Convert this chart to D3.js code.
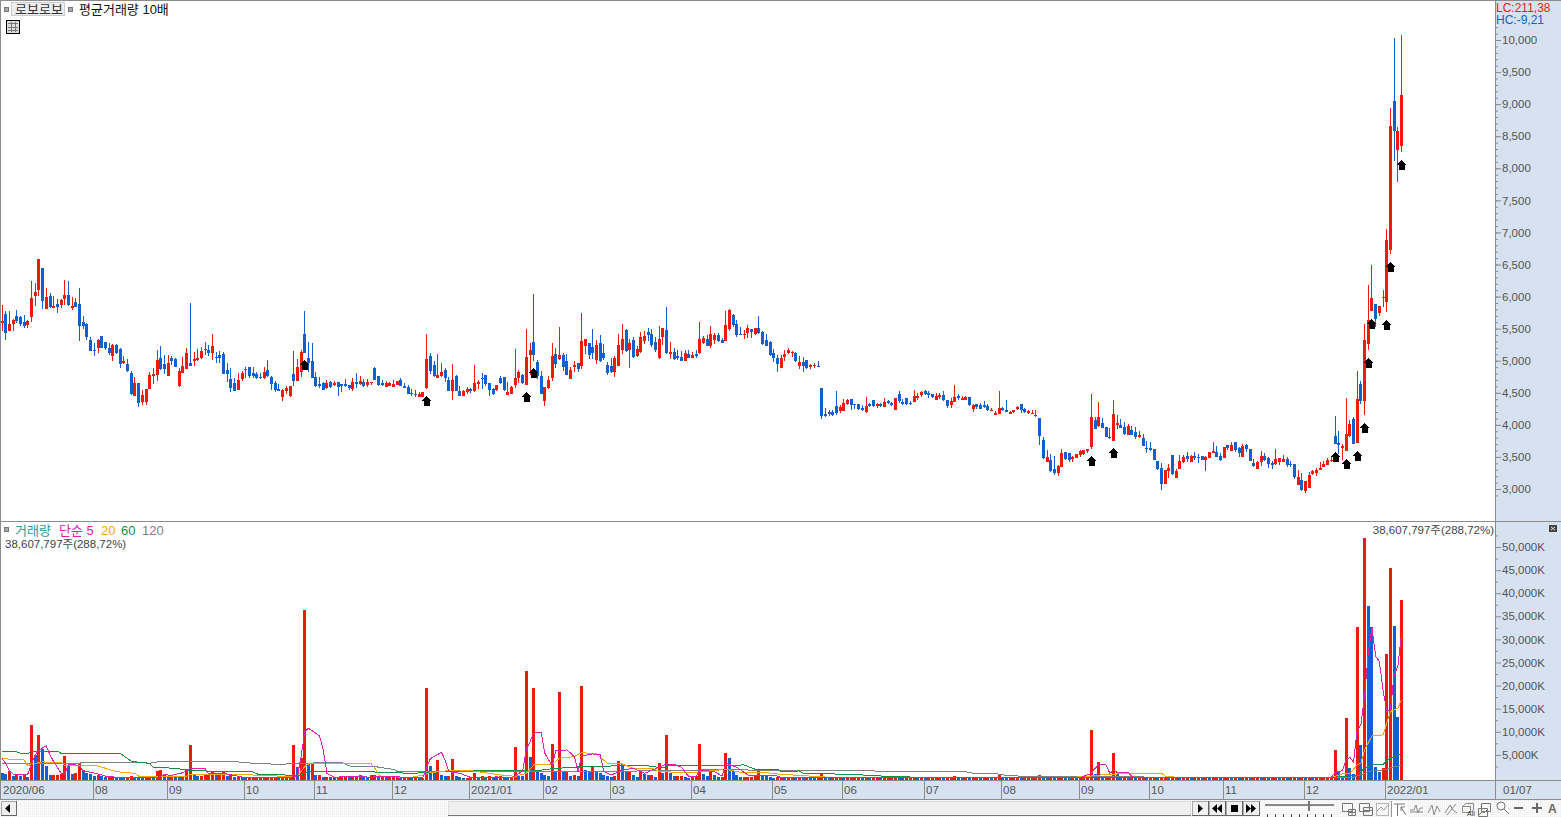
<!DOCTYPE html>
<html lang="ko">
<head>
    <meta charset="UTF-8">
    <script src="https://d3js.org/d3.v7.min.js"></script>
    <style>
        html, body { margin: 0; padding: 0; background: #fff; overflow: hidden; }
        svg { display: block; }
        text { font-family: "Liberation Sans", Arial, "Noto Sans CJK KR", sans-serif; font-size: 11.5px; fill: #555; }
        .kr { font-size: 13px; }
        .axis line { stroke: #8c8c8c; }
        .axis path { display: none; }
    </style>
</head>
<body>
<div id="chart"></div>
<script>
// 일봉 시가/고가/저가/종가 (화면에서 읽은 값)
const opens = [
5590,5730,5470,5570,5695,5680,5605,5555,5680,6010,
6100,6445,5805,6010,5820,5885,5870,5960,6025,5820,
5915,5885,5605,5570,5325,5165,5200,5385,5290,5200,
5075,5245,5185,4965,4950,4810,4450,4655,4355,4355,
4560,4760,4775,5040,4950,4760,5040,5025,4605,4810,
4870,4965,4995,5010,5040,5165,5165,5120,5060,5090,
5105,4855,4715,4655,4545,4715,4855,4900,4810,4790,
4745,4730,4855,4745,4655,4560,4435,4530,4450,4790,
4685,4825,5415,5040,4995,4745,4635,4655,4575,4670,
4620,4670,4635,4635,4620,4560,4670,4635,4670,4620,
4655,4885,4760,4655,4590,4605,4590,4620,4700,4605,
4590,4495,4480,4435,4435,4575,5075,4935,4730,4760,
4855,4700,4525,4760,4525,4450,4510,4560,4525,4635,
4730,4775,4650,4560,4545,4730,4745,4465,4480,4620,
4730,4775,4620,5090,5290,4980,4760,4370,4575,4730,
5105,5025,5090,4995,4715,4900,4965,4915,5230,5275,
5215,5010,5275,5120,4935,4915,4825,4915,5165,5480,
5165,5320,5075,5135,5305,5445,5415,5290,5040,5370,
5480,5105,5135,5075,5060,4995,5105,5040,5105,5120,
5275,5340,5230,5320,5400,5320,5305,5495,5710,5570,
5415,5400,5430,5495,5415,5510,5445,5320,5290,5120,
5040,4885,5060,5120,5120,5120,4915,4980,5010,4900,
4915,4915,4575,4170,4200,4200,4295,4215,4215,4325,
4405,4325,4325,4265,4200,4325,4385,4295,4325,4280,
4370,4340,4230,4480,4355,4420,4340,4355,4420,4465,
4530,4495,4480,4385,4435,4465,4385,4310,4355,4450,
4385,4385,4435,4245,4325,4310,4310,4295,4215,4155,
4170,4265,4230,4170,4200,4245,4325,4245,4185,4170,
4155,4105,3765,3420,3450,3310,3250,3345,3575,3560,
3465,3485,3530,3545,3590,3655,4075,3980,4030,3965,
3810,3750,3995,3995,3965,3840,3920,3890,3810,3795,
3640,3640,3625,3435,3325,3080,3280,3530,3170,3310,
3420,3515,3420,3515,3500,3515,3450,3485,3560,3575,
3515,3485,3685,3590,3735,3640,3500,3685,3625,3405,
3310,3420,3515,3485,3405,3390,3420,3420,3470,3390,
3390,3060,3140,2970,3015,3235,3250,3295,3345,3375,
3435,3825,3715,3640,3590,3825,4090,3715,4635,4370,
5260,5775,5885,5745,5980,5915,6725,9050,8285,8350];

const highs = [
5870,5775,5775,5650,5790,5695,5715,5635,6245,6210,
6585,6445,6135,6055,6010,5960,5960,6260,6245,5995,
5980,6135,5695,5590,5370,5275,5340,5385,5290,5275,
5260,5260,5200,5075,5025,4840,4745,4655,4545,4560,
4825,4885,5165,5230,5090,5090,5075,5040,4885,5060,
5200,5900,5135,5185,5215,5290,5245,5415,5135,5150,
5135,4965,4885,4730,4810,4840,4900,4900,4900,4825,
4810,4900,5010,4760,4685,4635,4560,4605,4605,5150,
5025,5165,5775,5290,5275,4825,4745,4670,4700,4685,
4685,4670,4635,4715,4620,4730,4810,4760,4715,4715,
4670,4900,4760,4700,4685,4670,4700,4685,4730,4655,
4620,4560,4545,4510,4510,5415,5120,4995,5105,4965,
4885,4745,4950,4775,4605,4545,4590,4575,4935,4700,
4810,4775,4650,4575,4620,4760,4745,4670,4605,5180,
4855,4790,5495,5275,6040,5010,4840,4590,4760,5275,
5200,5525,5120,5105,4900,4995,4965,5745,5340,5275,
5495,5320,5400,5260,4980,5040,5075,5415,5570,5495,
5340,5370,5230,5445,5465,5510,5495,5370,5540,5510,
5835,5290,5200,5165,5150,5165,5165,5135,5165,5605,
5385,5400,5540,5430,5430,5355,5775,5805,5730,5635,
5525,5480,5555,5495,5510,5695,5465,5415,5305,5180,
5090,5090,5165,5200,5150,5135,5075,5060,5010,4950,
4965,4995,4575,4265,4230,4230,4530,4310,4405,4405,
4405,4325,4325,4310,4435,4340,4385,4340,4340,4420,
4385,4355,4420,4530,4405,4420,4370,4545,4495,4530,
4545,4530,4480,4495,4495,4530,4385,4420,4620,4480,
4450,4450,4435,4325,4325,4340,4370,4325,4265,4215,
4530,4280,4385,4215,4230,4295,4325,4265,4230,4230,
4230,4105,3810,3610,3545,3515,3375,3625,3575,3560,
3515,3545,3610,3610,3625,4480,4120,4355,4105,3965,
3950,4385,4155,4090,4045,4015,3980,3965,3905,3855,
3750,3730,3625,3435,3405,3295,3390,3530,3310,3530,
3530,3575,3530,3575,3545,3515,3515,3575,3735,3670,
3560,3655,3685,3735,3735,3655,3700,3700,3625,3470,
3435,3590,3560,3500,3435,3625,3485,3530,3500,3435,
3390,3295,3250,3125,3265,3295,3325,3420,3435,3485,
3500,4140,3905,3700,4420,4075,4120,4840,4685,5570,
6180,6490,5885,5855,6100,7055,8940,10030,8645,10080];

const lows = [
5470,5325,5470,5470,5590,5540,5510,5510,5605,5855,
6010,5805,5805,5820,5820,5745,5820,5870,5855,5790,
5835,5305,5495,5325,5150,5075,5120,5200,5165,5090,
4995,5105,4885,4950,4825,4465,4450,4280,4310,4310,
4560,4635,4685,4855,4790,4760,4935,4900,4590,4810,
4870,4920,4920,4995,5025,5090,5075,5010,4965,4965,
4790,4670,4510,4530,4545,4685,4730,4730,4730,4715,
4715,4715,4745,4545,4510,4530,4370,4480,4435,4605,
4685,4745,5120,4825,4730,4590,4575,4545,4560,4575,
4605,4450,4510,4590,4545,4530,4575,4620,4590,4590,
4620,4700,4605,4605,4590,4605,4590,4620,4605,4575,
4480,4450,4435,4435,4435,4560,4790,4745,4730,4745,
4670,4525,4385,4525,4450,4450,4480,4495,4510,4560,
4560,4605,4450,4465,4525,4635,4525,4465,4480,4575,
4650,4635,4620,4775,4995,4715,4480,4295,4560,4685,
4885,5010,4840,4775,4715,4825,4825,4870,5105,5025,
5025,4950,4980,5010,4775,4810,4745,4915,5105,5135,
4885,5040,5060,5120,5260,5305,5215,5135,5025,5245,
5105,5025,5010,5010,4995,4995,5040,5040,5040,5105,
5260,5230,5200,5260,5290,5275,5305,5465,5525,5370,
5400,5340,5355,5355,5400,5415,5245,5230,5075,4980,
4825,4885,4995,5105,5060,4980,4870,4825,4870,4870,
4885,4900,4090,4120,4140,4140,4155,4185,4215,4310,
4230,4245,4230,4215,4185,4280,4280,4265,4280,4280,
4325,4295,4230,4340,4310,4310,4310,4355,4385,4435,
4465,4420,4420,4385,4405,4370,4265,4265,4355,4385,
4385,4385,4295,4200,4245,4245,4265,4215,4215,4155,
4170,4215,4200,4170,4185,4230,4185,4185,4170,4170,
4120,3685,3465,3420,3265,3220,3200,3345,3450,3420,
3420,3485,3500,3530,3560,3625,3935,3965,3950,3810,
3780,3750,3935,3950,3840,3840,3840,3780,3795,3670,
3560,3590,3450,3295,2985,3080,3170,3220,3170,3310,
3405,3420,3420,3450,3405,3450,3280,3485,3560,3495,
3435,3485,3610,3590,3575,3500,3500,3575,3435,3345,
3310,3360,3435,3325,3310,3375,3375,3420,3345,3345,
3155,3060,2970,2940,3015,3220,3205,3295,3345,3375,
3420,3700,3545,3450,3590,3810,3700,3715,4325,4155,
5165,5775,5525,5695,5835,5760,6665,8115,7785,8255];

const closes = [
5620,5430,5570,5635,5620,5570,5540,5620,5980,6070,
6585,5930,5995,5835,5855,5835,5945,6025,5870,5855,
5835,5540,5540,5370,5150,5150,5325,5200,5200,5120,
5245,5120,4950,4995,4840,4480,4655,4340,4465,4560,
4775,4790,5010,4870,4870,4965,4995,4900,4840,4920,
5120,4920,5025,5040,5150,5185,5120,5230,5040,5040,
4790,4790,4575,4530,4700,4810,4870,4760,4760,4730,
4730,4825,4760,4635,4545,4530,4545,4575,4605,4685,
4900,5135,5120,4965,4730,4605,4605,4545,4655,4590,
4655,4590,4605,4605,4575,4670,4635,4685,4605,4670,
4670,4700,4620,4620,4655,4655,4635,4685,4605,4575,
4480,4480,4465,4480,4510,5025,4840,4760,4775,4825,
4730,4525,4700,4525,4450,4525,4560,4525,4650,4670,
4715,4635,4545,4480,4620,4650,4545,4510,4590,4730,
4825,4650,5060,5165,5090,4760,4480,4590,4700,5075,
4950,5090,4900,4775,4855,4935,4870,5305,5340,5090,
5120,5245,4995,5040,4810,4825,5040,5245,5340,5150,
5275,5060,5180,5370,5385,5400,5245,5165,5340,5510,
5120,5135,5025,5040,4995,5120,5040,5090,5075,5340,
5355,5230,5415,5400,5305,5275,5555,5790,5555,5400,
5400,5415,5510,5445,5510,5430,5260,5230,5090,5040,
4950,5040,5105,5165,5135,4995,4980,4915,4885,4935,
4935,4900,4140,4140,4170,4155,4185,4280,4340,4385,
4310,4310,4245,4230,4295,4295,4295,4325,4295,4355,
4340,4310,4420,4370,4325,4325,4325,4450,4450,4510,
4480,4465,4435,4450,4465,4385,4295,4370,4435,4420,
4420,4435,4310,4310,4280,4245,4280,4230,4230,4185,
4265,4230,4200,4200,4230,4280,4230,4200,4215,4185,
4140,3825,3485,3500,3280,3250,3360,3560,3465,3450,
3500,3545,3590,3610,3625,4120,3935,4120,3950,3810,
3795,4170,4030,3950,3855,3980,3840,3810,3840,3670,
3625,3610,3450,3310,3080,3295,3325,3235,3280,3435,
3500,3465,3515,3485,3485,3450,3500,3575,3590,3500,
3450,3655,3640,3685,3610,3560,3670,3625,3435,3360,
3420,3515,3450,3390,3375,3470,3485,3470,3375,3375,
3185,3185,2985,3125,3220,3280,3295,3325,3390,3450,
3450,3700,3685,3670,3855,4015,3700,4405,4370,5325,
5635,5980,5650,5855,5995,6880,8660,8580,8580,9150];

// 거래량 (천주)
const volumes = [
1085,870,1520,430,870,430,870,220,11500,5000,
9330,6290,2600,600,650,700,870,4770,2820,870,
1085,3250,1735,1085,870,430,650,430,150,220,
300,180,150,120,220,430,220,200,150,150,
430,220,1520,1735,650,430,650,430,220,220,
1950,7160,650,430,430,650,870,1520,870,870,
1300,430,650,300,430,220,100,100,100,220,
220,220,220,220,220,100,100,220,430,7160,
2390,4340,36450,3250,3250,650,650,220,300,180,
150,150,150,220,150,220,430,650,430,220,
650,650,220,220,150,150,150,220,150,150,
150,120,150,100,100,19450,2600,1520,3900,650,
430,430,4120,360,220,100,100,150,1085,150,
430,220,430,220,200,430,200,100,220,6720,
650,360,23200,4550,19500,1520,1085,650,430,7370,
1520,18650,1520,1520,430,650,430,19950,1735,1520,
2390,1520,1085,650,430,220,430,3690,3040,1300,
1300,650,220,1735,870,650,650,220,3250,1085,
9330,1085,430,430,430,220,100,220,430,7370,
870,430,1950,650,220,220,5420,4340,1520,650,
220,220,220,220,430,1520,650,430,220,100,
220,220,150,150,150,120,180,150,150,120,
100,120,870,200,100,100,120,120,100,100,
100,100,100,80,100,80,100,100,80,100,
100,100,290,100,80,100,100,100,80,100,
80,80,100,100,100,80,100,100,430,100,
80,100,80,80,100,80,80,100,80,100,
650,100,80,80,100,100,80,80,100,100,
100,650,200,100,100,80,100,300,150,100,
100,80,100,100,150,10400,870,3470,300,300,
300,5420,870,290,290,150,150,100,100,100,
80,80,100,80,100,100,80,80,100,80,
80,100,80,80,100,80,100,80,80,100,
80,80,100,80,100,80,80,100,80,100,
100,80,100,80,80,100,80,100,80,80,
100,80,100,80,100,80,100,100,100,100,
150,6070,1230,430,13000,2170,870,32750,7160,52050,
37300,32750,2390,1300,2170,26900,45550,32970,13230,38608];

// 이동평균 (읽은 지점의 봉 번호, 값)
const ma5Days = [1,2,3,4,7,8,9,10,11,13,14,15,17,18,19,21,22,23,27,29,32,43,45,47,50,52,56,57,62,67,72,79,81,82,83,84,86,87,88,89,91,96,101,103,112,115,116,117,118,120,121,122,125,128,135,139,140,142,143,145,147,148,149,150,151,154,156,157,158,161,163,164,166,169,172,175,181,183,185,187,189,190,194,196,197,200,203,206,210,212,225,240,270,293,296,297,298,299,300,301,302,303,306,307,308,319,322,326,345,361,362,364,365,366,367,368,369,370,371,372,373,374,375,376,377,378,379,380];
const ma5Vals = [4270,3180,1520,870,650,870,3180,4990,6070,6940,4990,3540,1010,1010,2820,2820,2460,1590,870,430,150,150,720,580,1160,2100,2020,870,870,50,150,150,430,4630,10050,10770,9690,9110,6070,1010,150,430,150,430,100,100,2310,4190,4630,5570,3900,1370,1010,100,220,100,430,1590,6070,9690,9900,5350,3900,2820,5930,6070,4630,1370,4770,5210,4990,1370,650,1735,2100,1010,3040,2960,2310,290,290,1735,1370,430,3180,2310,650,430,650,100,100,120,150,60,1010,2100,2820,2960,2820,1010,1590,1230,1230,290,60,100,40,100,60,100,1160,1590,3900,4480,3400,10400,11500,17640,27040,32460,26320,25230,19090,14390,14750,22340,24150,31020];
const ma20Days = [1,5,7,8,9,12,17,18,27,29,32,37,38,51,52,59,66,72,79,81,83,84,101,102,103,104,112,115,117,122,128,136,140,143,145,150,152,156,158,162,165,169,172,177,179,188,197,201,207,212,218,225,290,296,299,307,315,316,318,319,331,352,361,364,366,368,369,370,372,375,376,377,379,380];
const ma20Vals = [4270,3900,3900,2600,3040,3470,3400,2600,2600,2100,1370,1010,430,360,800,720,720,580,290,430,2460,3040,3040,2100,650,290,150,650,1160,1590,1590,650,360,1010,2820,3040,4270,4630,5490,5210,3180,3040,2100,2100,1370,1160,1880,1230,1230,800,510,150,100,430,720,1010,1010,430,290,100,50,50,150,870,1010,2820,3180,6070,9110,9330,11860,14390,15110,16920];
const ma60Days = [1,5,6,8,9,16,17,33,36,38,41,42,48,51,56,69,70,75,80,82,84,102,112,121,129,141,146,150,158,175,180,181,193,202,205,211,212,217,218,225,228,237,241,252,258,293,361,368,370,372,375,376,377,380];
const ma60Vals = [5780,5640,5350,5350,5640,5780,5350,5350,3620,3400,3180,2310,2100,1735,1520,1300,870,720,580,650,1450,1300,1010,1370,1660,1590,1590,2020,2460,2750,2170,2600,2750,2820,1880,1880,1450,1520,1010,940,800,580,290,150,50,100,100,650,2100,2960,2960,3760,4270,5350];
const ma120Days = [1,38,41,44,63,69,76,82,93,95,102,107,108,112,128,175,201,202,225,237,238,262,264,270,271,273,279,310,311,362,367,372,375,380];
const ma120Vals = [3040,3400,3180,3620,3620,3180,2960,3180,3400,2600,2460,1880,1450,1370,1370,1520,1880,1735,1590,1590,1370,1370,1010,1010,800,580,290,290,60,100,150,1590,1735,2820];

// 매수 신호 화살표
const arrowDays = [83,116,143,145,296,302,362,365,368,370,371,372,376,377,380];
const arrowPrices = [4996,4434,4497,4871,3499,3624,3561,3452,3577,4013,5027,5635,5619,6523,8113];

const monthDays = [1,26,46,67,86,107,128,148,166,188,210,229,251,272,293,312,332,354,376];
const monthLabels = ["2020/06","08","09","10","11","12","2021/01","02","03","04","05","06","07","08","09","10","11","12","2022/01"];

const priceTicks = d3.range(3000, 10001, 500);
const priceMinor = d3.range(2900, 10201, 100);
const volTicks = d3.range(5000, 50001, 5000);
const volMinor = d3.range(2500, 52501, 5000);

const width = 1561, height = 817;
const axisX = 1495;
const RED = "#ee1a0a", BLUE = "#1060d0", PANEL = "#d6e2f0", GRID = "#8c8c8c";

const days = d3.range(1, opens.length + 1);
const x = d3.scalePoint().domain(days).range([2, 1401.5]);
const px = d => Math.floor(x(d));
const y = d3.scaleLinear().domain([3000, 10000]).range([489, 40]);
const yVol = d3.scaleLinear().domain([0, 50000]).range([778, 547]);

const svg = d3.select("#chart").append("svg")
    .attr("width", width).attr("height", height)
    .attr("viewBox", `0 0 ${width} ${height}`);

// 오른쪽 축 영역, 날짜 영역, 구분선
svg.append("rect").attr("x", axisX).attr("y", 0).attr("width", width - axisX).attr("height", 800).attr("fill", PANEL);
svg.append("rect").attr("x", 0).attr("y", 780).attr("width", width).attr("height", 20).attr("fill", PANEL);

const hline = (y0, x1, x2) => svg.append("rect").attr("x", x1).attr("y", y0).attr("width", x2 - x1).attr("height", 1).attr("fill", GRID);
const vline = (x0, y1, y2) => svg.append("rect").attr("x", x0).attr("y", y1).attr("width", 1).attr("height", y2 - y1).attr("fill", GRID);
hline(0, 0, width);
hline(521, 0, width);
hline(780, 0, width);
hline(799, 0, width);
vline(0, 0, 800);
vline(axisX, 0, 800);

// 가격 캔들
const candles = svg.append("g").attr("shape-rendering", "crispEdges");
const up = i => closes[i] >= opens[i];
candles.selectAll(".wick").data(days).enter().append("rect")
    .attr("class", "wick")
    .attr("x", d => px(d))
    .attr("y", d => y(highs[d - 1]))
    .attr("width", 1)
    .attr("height", d => Math.max(1, y(lows[d - 1]) - y(highs[d - 1])))
    .attr("fill", d => up(d - 1) ? RED : BLUE);
candles.selectAll(".body").data(days).enter().append("rect")
    .attr("class", "body")
    .attr("x", d => px(d) - 1)
    .attr("y", d => y(Math.max(opens[d - 1], closes[d - 1])))
    .attr("width", 3)
    .attr("height", d => Math.max(1, Math.abs(y(opens[d - 1]) - y(closes[d - 1]))))
    .attr("fill", d => up(d - 1) ? RED : BLUE);

svg.append("g").attr("shape-rendering", "crispEdges")
    .selectAll("path").data(arrowDays).enter().append("path")
    .attr("d", "M0,-1 L5.5,4 L3,4 L3,9 L-3,9 L-3,4 L-5.5,4 Z")
    .attr("transform", (d, i) => `translate(${px(d) + 0.5},${y(arrowPrices[i])})`)
    .attr("fill", "#000");

// 거래량 막대: 전일보다 늘면 빨강, 줄면 파랑
svg.append("g").attr("shape-rendering", "crispEdges")
    .selectAll("rect").data(days).enter().append("rect")
    .attr("x", d => px(d) - 1)
    .attr("y", d => Math.min(yVol(volumes[d - 1]), 779))
    .attr("width", 3)
    .attr("height", d => 780 - Math.min(yVol(volumes[d - 1]), 779))
    .attr("fill", d => (d === 1 || volumes[d - 1] < volumes[d - 2]) ? BLUE : RED);

// 이동평균선
const maLine = d3.line().x(d => x(d[0])).y(d => Math.min(yVol(d[1]), 779));
[[ma120Days, ma120Vals, "#808080"], [ma60Days, ma60Vals, "#109040"], [ma20Days, ma20Vals, "#f0a800"], [ma5Days, ma5Vals, "#e020b0"]]
    .forEach(([ds, vs, color]) => {
        svg.append("path")
            .attr("d", maLine(ds.map((d, i) => [d, vs[i]])))
            .attr("fill", "none").attr("stroke", color).attr("stroke-width", 1)
            .attr("shape-rendering", "crispEdges");
    });

// 축
const priceAxis = svg.append("g").attr("class", "axis").attr("transform", `translate(${axisX},0)`)
    .call(d3.axisRight(y).tickValues(priceTicks).tickSize(6).tickPadding(1).tickFormat(d3.format(",")));
svg.append("g").attr("class", "axis").attr("transform", `translate(${axisX},0)`)
    .call(d3.axisRight(y).tickValues(priceMinor).tickSize(3).tickFormat(""));
const volAxis = svg.append("g").attr("class", "axis").attr("transform", `translate(${axisX},0)`)
    .call(d3.axisRight(yVol).tickValues(volTicks).tickSize(6).tickPadding(1).tickFormat(d => d3.format(",")(d) + "K"));
svg.append("g").attr("class", "axis").attr("transform", `translate(${axisX},0)`)
    .call(d3.axisRight(yVol).tickValues(volMinor).tickSize(3).tickFormat(""));
[priceAxis, volAxis].forEach(a => a.selectAll("text").style("font-size", "11.5px").style("font-family", "'Liberation Sans', Arial, sans-serif").style("fill", "#555"));

// 날짜 축
const months = svg.append("g").selectAll("g").data(monthDays).enter().append("g")
    .attr("transform", d => `translate(${Math.round(x(d) - 1.5)},780)`);
months.filter((d, i) => i > 0).append("rect").attr("width", 1).attr("height", 19).attr("fill", GRID);
months.append("text").attr("x", 2).attr("y", 14).text((d, i) => monthLabels[i]);
svg.append("text").attr("x", 1503).attr("y", 794).text("01/07");

// 텍스트와 버튼
const label = (tx, ty, str, fill, cls) => svg.append("text").attr("x", tx).attr("y", ty)
    .attr("class", cls || null).style("fill", fill).text(str);
const tag = (tx, ty) => svg.append("rect").attr("x", tx + 0.5).attr("y", ty + 0.5).attr("width", 4).attr("height", 4)
    .attr("fill", "#aaa").attr("stroke", "#777");

tag(4, 7);
svg.append("rect").attr("x", 11.5).attr("y", 2.5).attr("width", 53).attr("height", 13).attr("fill", "#eee").attr("stroke", "#ccc");
label(15, 14, "로보로보", "#333", "kr");
tag(68, 7);
label(79, 14, "평균거래량 10배", "#111", "kr");
svg.append("rect").attr("x", 6.5).attr("y", 20.5).attr("width", 13).attr("height", 13).attr("fill", "#ddd").attr("stroke", "#000");
svg.append("path").attr("d", "M8,23.5H18M8,27.5H18M8,30.5H18M11.5,22V32M15.5,22V32").attr("stroke", "#777").attr("fill", "none");

label(1496, 12, "LC:211,38", RED).style("font-size", "12px");
label(1496, 24, "HC:-9,21", BLUE).style("font-size", "12px");

tag(4, 527);
label(15, 535, "거래량", "#2a9a9a", "kr");
label(59, 535, "단순 5", "#e020b0", "kr");
label(101, 535, "20", "#f0a800", "kr");
label(121, 535, "60", "#109040", "kr");
label(142, 535, "120", "#808080", "kr");
label(5, 548, "38,607,797주(288,72%)", "#444");
label(1494, 534, "38,607,797주(288,72%)", "#444").attr("text-anchor", "end");
svg.append("rect").attr("x", 1549).attr("y", 525).attr("width", 8).attr("height", 7).attr("fill", "#444");
svg.append("path").attr("d", "M1551,527L1555,530M1555,527L1551,530").attr("stroke", "#ddd");

// 하단 툴바
const defs = svg.append("defs");
const dots = defs.append("pattern").attr("id", "dots").attr("width", 2).attr("height", 2).attr("patternUnits", "userSpaceOnUse");
dots.append("rect").attr("width", 2).attr("height", 2).attr("fill", "#fbfbfb");
dots.append("rect").attr("width", 1).attr("height", 1).attr("fill", "#ececec");
svg.append("rect").attr("x", 0).attr("y", 800).attr("width", width).attr("height", 17).attr("fill", "url(#dots)");
svg.append("rect").attr("x", 448.5).attr("y", 801.5).attr("width", 742).attr("height", 14).attr("fill", "#efefef").attr("stroke", "#ddd");
hline(815, 448, 1191).attr("fill", "#777");

const button = (bx, w) => {
    svg.append("rect").attr("x", bx + 0.5).attr("y", 801.5).attr("width", w).attr("height", 14).attr("fill", "#f0f0f0").attr("stroke", "#aaa");
    hline(815, bx, bx + w + 1).attr("fill", "#666");
    vline(bx + w, 801, 816).attr("fill", "#666");
};
const glyph = (d) => svg.append("path").attr("d", d).attr("fill", "#000");
button(1, 15);
glyph("M5,808.5L10,804V813Z");
button(1192, 16);
glyph("M1198,804L1203,808.5L1198,813Z");
button(1209, 16);
glyph("M1217,804V813L1212,808.5ZM1222,804V813L1217,808.5Z");
button(1226, 16);
glyph("M1231,805H1238V812H1231Z");
button(1243, 16);
glyph("M1246,804L1251,808.5L1246,813ZM1251,804L1256,808.5L1251,813Z");

svg.append("rect").attr("x", 1265).attr("y", 804).attr("width", 69).attr("height", 2).attr("fill", "#888");
svg.append("rect").attr("x", 1308).attr("y", 801).attr("width", 2).attr("height", 10).attr("fill", "#777");
d3.range(1267, 1335, 8).forEach(t => svg.append("rect").attr("x", t).attr("y", 814).attr("width", 1).attr("height", 3).attr("fill", "#444"));

const icon = (d, color) => svg.append("path").attr("d", d).attr("fill", "none").attr("stroke", color || "#777");
svg.append("rect").attr("x", 1391).attr("y", 801).attr("width", 17).attr("height", 16).attr("fill", "#fff");
icon("M1342.5,803.5H1352.5V811.5H1342.5ZM1348.5,809.5H1355.5V815.5H1348.5ZM1352,810V815M1349,812.5H1355");
icon("M1359.5,803.5H1369.5V811.5H1359.5ZM1363.5,807.5H1372.5V815.5H1363.5ZM1363.5,810.5H1372.5");
icon("M1376.5,803.5H1388.5V815.5H1376.5Z").attr("stroke-dasharray", "1,1");
icon("M1377,811L1381,807L1384,810L1388,805", "#999");
vline(1391, 801, 817).attr("fill", "#999");
icon("M1394,804H1405M1397.5,804V816M1401,807L1406,815M1401,807H1405M1401,807V811");
icon("M1410,810H1414L1416,805L1418,813L1420,808H1423M1410,812H1423", "#888");
icon("M1428,813L1432,805L1434,815L1437,806L1440,812", "#888");
icon("M1445,813L1450,805L1453,810L1457,813M1447,815L1456,804", "#888");
icon("M1462.5,806.5H1470.5V812.5H1462.5ZM1462.5,806.5L1466,803.5H1473.5V810L1470.5,812.5", "#888");
svg.append("text").attr("x", 1467).attr("y", 816).style("font-size", "7px").style("fill", "#333").text("All");
icon("M1481.5,803.5H1490.5V811.5H1481.5ZM1478.5,808.5H1487.5V816.5H1478.5ZM1479,815L1482,812L1484,813L1487,810");
svg.append("circle").attr("cx", 1501).attr("cy", 806).attr("r", 4).attr("fill", "none").attr("stroke", "#777");
icon("M1504,809L1509,814");
svg.append("rect").attr("x", 1514).attr("y", 807).attr("width", 9).attr("height", 2).attr("fill", "#666");
svg.append("path").attr("d", "M1532,807H1536V803H1538V807H1542V809H1538V813H1536V809H1532Z").attr("fill", "#666");
svg.append("text").attr("x", 1548).attr("y", 813).style("font-size", "12px").style("font-weight", "bold").style("fill", "#666").text("A");
</script>
</body>
</html>
